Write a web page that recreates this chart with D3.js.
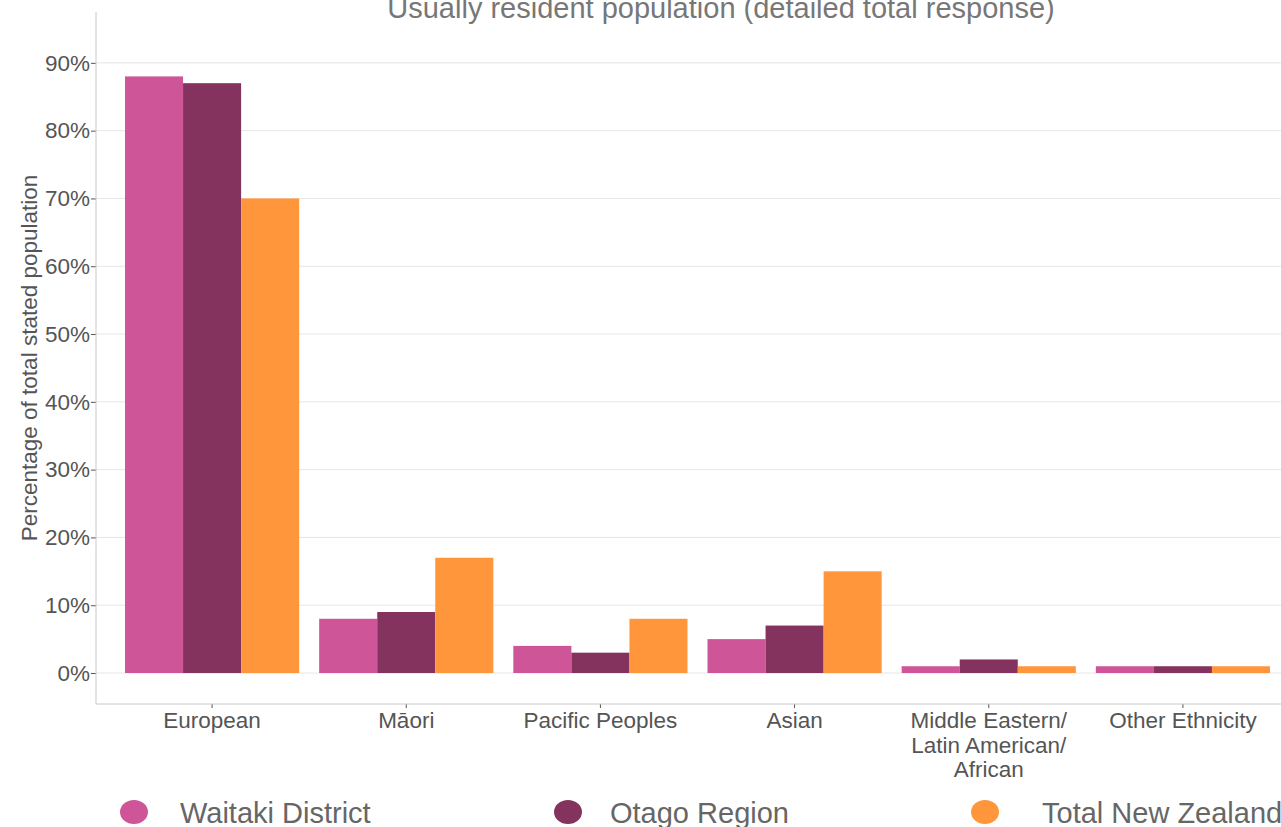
<!DOCTYPE html>
<html>
<head>
<meta charset="utf-8">
<script src="https://cdn.jsdelivr.net/npm/d3@7"></script>
<style>
  body { margin: 0; background: #fff; overflow: hidden; }
  svg { font-family: "Liberation Sans", Arial, sans-serif; display: block; }
</style>
</head>
<body>
<script>
// ethnic groups and the three areas
var categories = ["European", "Māori", "Pacific Peoples", "Asian", "Middle Eastern/\nLatin American/\nAfrican", "Other Ethnicity"];
var series = ["Waitaki District", "Otago Region", "Total New Zealand"];
var waitaki = [88, 8, 4, 5, 1, 1];
var otago = [87, 9, 3, 7, 2, 1];
var totalNZ = [70, 17, 8, 15, 1, 1];
var yTicks = [0, 10, 20, 30, 40, 50, 60, 70, 80, 90];
var colors = ["#cf5599", "#84335f", "#ff963c"];

var width = 1281,
    height = 827;

var values = [waitaki, otago, totalNZ];

var svg = d3.select("body").append("svg")
    .attr("width", width)
    .attr("height", height);

var x = d3.scaleBand()
    .domain(categories)
    .range([115, 1280])
    .paddingInner(0.103)
    .paddingOuter(0.0515);

var xs = d3.scaleBand()
    .domain(series)
    .range([0, x.bandwidth()]);

var y = d3.scaleLinear()
    .domain([-4.57, 97.5])
    .range([704, 12]);

// grid
svg.append("g").selectAll("line")
    .data(yTicks)
  .enter().append("line")
    .attr("x1", 96).attr("x2", width)
    .attr("y1", function(d){ return y(d); })
    .attr("y2", function(d){ return y(d); })
    .attr("stroke", "#e6e6e6")
    .attr("stroke-width", 1);

// bars
var groups = svg.append("g").selectAll("g")
    .data(categories)
  .enter().append("g")
    .attr("transform", function(d){ return "translate(" + x(d) + ",0)"; });

groups.selectAll("rect")
    .data(function(d, i){ return series.map(function(s, j){ return {s: s, v: values[j][i], j: j}; }); })
  .enter().append("rect")
    .attr("x", function(d){ return xs(d.s); })
    .attr("width", xs.bandwidth())
    .attr("y", function(d){ return y(d.v); })
    .attr("height", function(d){ return y(0) - y(d.v); })
    .attr("fill", function(d){ return colors[d.j]; });

// y axis
var yAxis = svg.append("g")
    .attr("transform", "translate(96,0)")
    .call(d3.axisLeft(y).tickValues(yTicks).tickFormat(function(d){ return d + "%"; }).tickSize(5).tickPadding(1));
yAxis.select(".domain").remove();
yAxis.selectAll(".tick line").attr("stroke", "#555");
yAxis.selectAll("text").attr("fill", "#555").style("font-size", "22.5px").attr("font-family", null);
svg.append("line")
    .attr("x1", 96).attr("x2", 96).attr("y1", 12).attr("y2", 704)
    .attr("stroke", "#c8c8c8");

// x axis
var xAxis = svg.append("g")
    .attr("transform", "translate(0,704)")
    .call(d3.axisBottom(x).tickSize(4).tickFormat(""));
xAxis.select(".domain").remove();
xAxis.selectAll(".tick line").attr("stroke", "#555");
svg.append("line")
    .attr("x1", 96).attr("x2", width).attr("y1", 704).attr("y2", 704)
    .attr("stroke", "#c8c8c8");

xAxis.selectAll(".tick").append("text")
    .attr("fill", "#555")
    .attr("text-anchor", "middle")
    .style("font-size", "22.5px")
    .selectAll("tspan")
    .data(function(d){ return d.split("\n"); })
  .enter().append("tspan")
    .attr("x", 0)
    .attr("y", function(d, i){ return 24 + i * 24.5; })
    .text(function(d){ return d; });
xAxis.attr("font-family", null).attr("font-size", null);

// axis title
svg.append("text")
    .attr("transform", "translate(37,358) rotate(-90)")
    .attr("text-anchor", "middle")
    .attr("fill", "#555")
    .style("font-size", "22.5px")
    .text("Percentage of total stated population");

// chart title
svg.append("text")
    .attr("x", 721).attr("y", 18)
    .attr("text-anchor", "middle")
    .attr("fill", "#777")
    .style("font-size", "29px")
    .text("Usually resident population (detailed total response)");

// legend
var legendX = [134, 568, 985];
var legendTextX = [180, 610, 1042];
var legend = svg.append("g").selectAll("g")
    .data(series)
  .enter().append("g");
legend.append("ellipse")
    .attr("cx", function(d, i){ return legendX[i]; })
    .attr("cy", 812)
    .attr("rx", 14).attr("ry", 12)
    .attr("fill", function(d, i){ return colors[i]; });
legend.append("text")
    .attr("x", function(d, i){ return legendTextX[i]; })
    .attr("y", 823)
    .attr("fill", "#666")
    .style("font-size", "29px")
    .text(function(d){ return d; });
</script>
</body>
</html>
